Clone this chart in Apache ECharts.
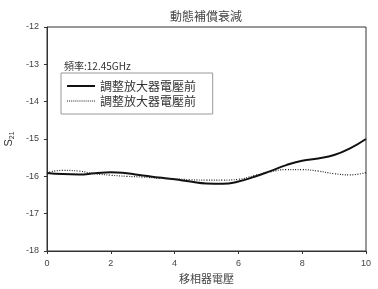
<!DOCTYPE html>
<html><head><meta charset="utf-8">
<script src="https://cdn.jsdelivr.net/npm/echarts@6/dist/echarts.min.js"></script>
<style>html,body{margin:0;padding:0;background:#fff}#c{width:378px;height:289px}</style>
</head><body><div id="c"></div>
<script>
const xVals = [0, 0.5, 1, 1.5, 2, 2.5, 3, 3.5, 4, 4.5, 5, 5.5, 6, 6.5, 7, 7.5, 8, 8.5, 9, 9.5, 10];
const solidVals = [-15.91, -15.94, -15.95, -15.92, -15.89, -15.92, -15.98, -16.03, -16.08, -16.14, -16.19, -16.2, -16.14, -16.01, -15.86, -15.7, -15.58, -15.52, -15.43, -15.25, -15.0];
const dottedVals = [-15.9, -15.84, -15.86, -15.93, -15.97, -16.0, -16.02, -16.05, -16.07, -16.09, -16.1, -16.1, -16.08, -15.98, -15.88, -15.82, -15.82, -15.86, -15.93, -15.96, -15.9];
const seriesNames = ['調整放大器電壓前', '調整放大器電壓前 '];
const titleText = '動態補償衰減';
const noteText = '頻率:12.45GHz';
const xName = '移相器電壓';

const font = '"Noto Sans CJK TC", "DejaVu Sans", sans-serif';
let dotPath = 'path://';
for (let i = 0; i < 28; i += 2) dotPath += 'M' + i + ',0H' + (i + 1) + 'V1H' + i + 'Z';
const chart = echarts.init(document.getElementById('c'), null, {renderer: 'canvas'});
const pair = a => xVals.map((x, i) => [x, a[i]]);
chart.setOption({
  animation: false,
  title: {text: titleText, left: 165, top: 5, textStyle: {fontFamily: font, fontSize: 12, fontWeight: 'normal', color: '#444'}},
  grid: {left: 47, right: 12, top: 27, bottom: 38, show: true, borderColor: '#333', borderWidth: 1, containLabel: false, outerBoundsMode: 'none'},
  legend: {
    orient: 'vertical', left: 61, top: 73, itemWidth: 28, itemHeight: 8, itemGap: 3,
    padding: [7, 14, 7, 6], borderColor: '#999', borderWidth: 1,
    textStyle: {fontFamily: font, fontSize: 12, color: '#333'},
    data: [{name: seriesNames[0], icon: 'path://M0,0H28V2H0Z'}, {name: seriesNames[1], icon: dotPath}]
  },
  graphic: [{type: 'text', left: 64, top: 61, style: {text: noteText, font: '10px ' + font, fill: '#333'}}],
  xAxis: {
    type: 'value', min: 0, max: 10, interval: 2, name: xName, nameLocation: 'middle', nameGap: 22,
    nameTextStyle: {fontFamily: font, fontSize: 11, color: '#444'},
    axisLine: {lineStyle: {color: '#333'}}, axisTick: {show: true, length: 3},
    axisLabel: {fontSize: 9, color: '#444', fontFamily: 'Liberation Sans'}, splitLine: {show: false}
  },
  yAxis: {
    type: 'value', min: -18, max: -12, interval: 1, name: 'S{s|21}', nameLocation: 'middle', nameGap: 25, nameRotate: 90,
    nameTextStyle: {fontSize: 11, color: '#333', fontFamily: 'Liberation Sans', rich: {s: {fontSize: 7, verticalAlign: 'bottom', padding: [6, 0, 0, 0]}}},
    axisLine: {show: true, lineStyle: {color: '#333'}}, axisTick: {show: true, length: 3},
    axisLabel: {fontSize: 9, color: '#444', fontFamily: 'Liberation Sans'}, splitLine: {show: false}
  },
  series: [
    {name: seriesNames[0], type: 'line', smooth: true, showSymbol: false, data: pair(solidVals), lineStyle: {color: '#111', width: 2}, itemStyle: {color: '#111'}},
    {name: seriesNames[1], type: 'line', smooth: true, showSymbol: false, data: pair(dottedVals), lineStyle: {color: '#222', width: 1.2, type: [1, 1.5]}, itemStyle: {color: '#222'}}
  ]
});
</script></body></html>
